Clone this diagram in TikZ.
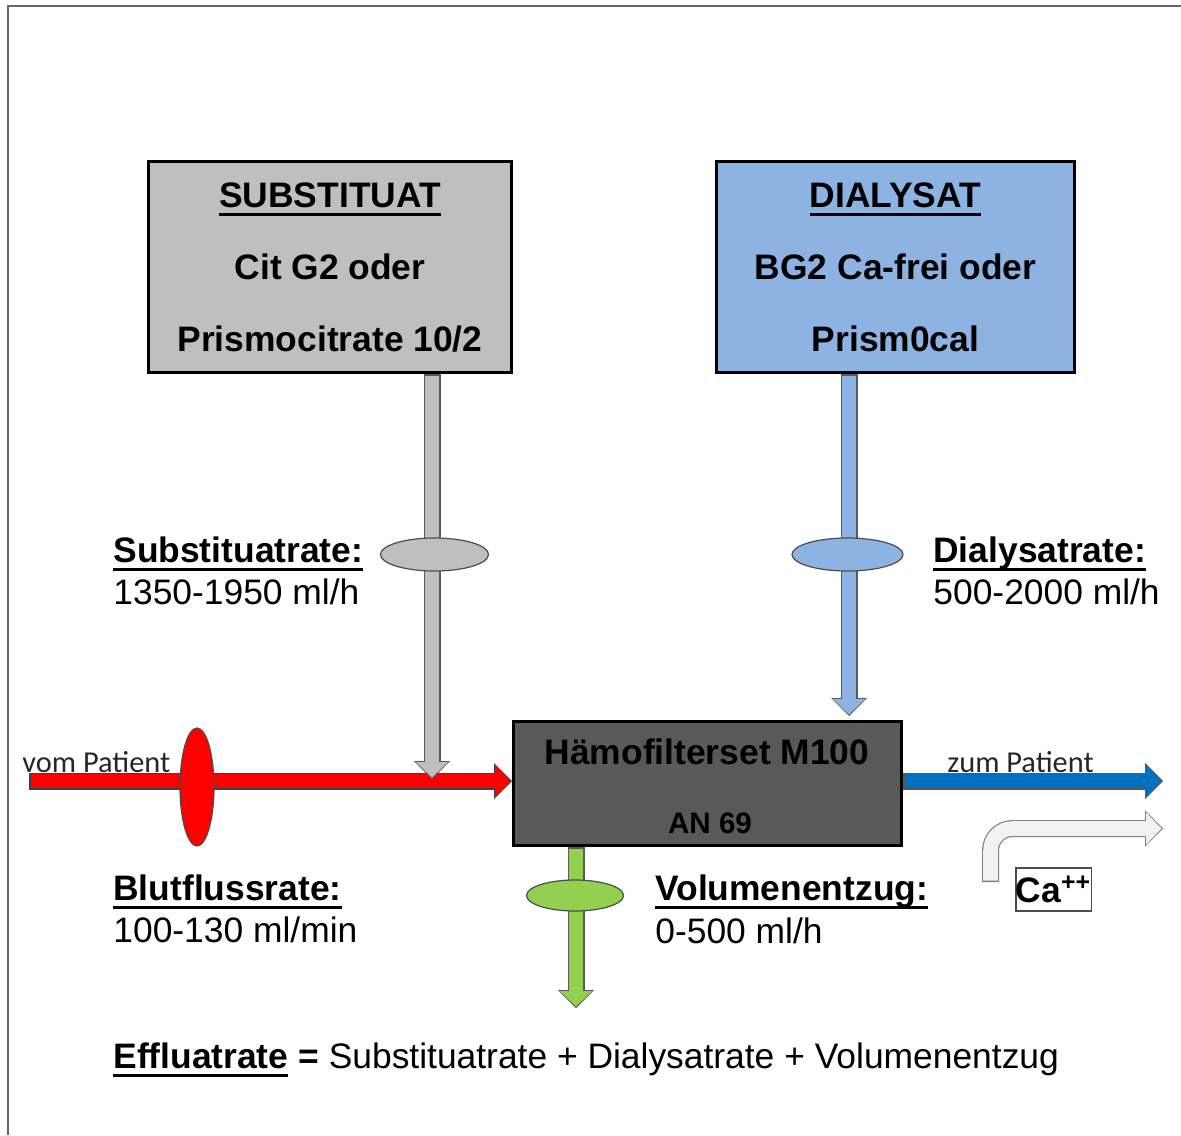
\documentclass[tikz,border=0pt]{standalone}
\usepackage{fontspec}
\setmainfont{Liberation Sans}
\newfontfamily\calibrifont{Carlito}
\usepackage{tikz}
\usetikzlibrary{arrows.meta,shapes.geometric}
\definecolor{substgray}{HTML}{BFBFBF}
\definecolor{dialblue}{HTML}{8DB3E2}
\definecolor{bloodred}{HTML}{FF0000}
\definecolor{returnblue}{HTML}{0070C0}
\definecolor{effluatgreen}{HTML}{92D050}
\definecolor{filtergray}{HTML}{595959}
\definecolor{calight}{HTML}{F2F2F2}
\newcommand{\ulin}[1]{\setbox0\hbox{#1}\rlap{\rule[-4.4pt]{\wd0}{1.4pt}}\box0\relax}
\newcommand{\flowline}[3][black!65]{\draw[flowout=#1] #3; \draw[flowin=#2] #3;}
\tikzset{
  srcbox/.style={draw, line width=1.5pt, inner sep=0pt, align=center, minimum height=105.5pt, font=\fontsize{17.7}{36}\selectfont\bfseries},
  pumpshape/.style={ellipse, draw=black!70, line width=0.6pt, inner sep=0pt},
  ratehead/.style={anchor=base west, inner sep=0pt, font=\fontsize{17.7}{20}\selectfont\bfseries},
  ratevalue/.style={anchor=base west, inner sep=0pt, font=\fontsize{17.7}{20}\selectfont},
  patientlabel/.style={anchor=base west, inner sep=0pt, text=black!85, font=\fontsize{15.2}{17}\calibrifont},
  flowout/.style={line width=8.5pt, draw=#1, -{Triangle[width=18pt,length=9pt,line width=0pt]}},
  flowin/.style={line width=7.3pt, draw=#1, shorten <=0.75pt, shorten >=0.75pt, -{Triangle[width=16pt,length=7.7pt,line width=0pt]}}
}
\begin{document}
\begin{tikzpicture}[x=0.5pt,y=-0.5pt]
\useasboundingbox (0,0) rectangle (1181,1135);
\draw[black!60, line width=1pt] (8,1135) -- (8,6) -- (1181,6);

\node[srcbox, fill=substgray, minimum width=181.5pt] (substituat) at (330,267) {\ulin{SUBSTITUAT}\\Cit G2 oder\\Prismocitrate 10/2};
\node[srcbox, fill=dialblue, minimum width=179pt] (dialysat) at (895.5,267) {\ulin{DIALYSAT}\\BG2 Ca-frei oder\\Prism0cal};
\node[draw, fill=filtergray, line width=1.5pt, minimum width=194pt, minimum height=62pt] (filter) at (707.5,783.5) {};
\node[font=\fontsize{17.7}{20}\selectfont\bfseries] (filtername) at (707,752) {Hämofilterset M100};
\node[font=\fontsize{14.8}{17}\selectfont\bfseries] (filtertype) at (710,823) {AN 69};

\coordinate (patin) at (29,781);
\coordinate (patout) at (1163,781);
\coordinate (mixpoint) at (432,779);
\coordinate (dialin) at (849,716);
\coordinate (effluat) at (576,1008);
\coordinate (castart) at (990.5,882);
\coordinate (caend) at (1163,828.5);

\node[patientlabel] (fromlabel) at (22,772.5) {vom Patient};
\node[patientlabel] (tolabel) at (947,772.5) {zum Patient};

\flowline[black!75]{bloodred}{(patin) -- (patin -| filter.west)}
\flowline{returnblue}{(filter.east |- patout) -- (patout)}
\flowline{substgray}{(substituat.south -| mixpoint) -- (mixpoint)}
\flowline{dialblue}{(dialysat.south -| dialin) -- (dialin)}
\flowline{effluatgreen}{(filter.south -| effluat) -- (effluat)}
\flowline[black!50]{calight}{[rounded corners=11pt] (castart) |- (caend)}

\node[pumpshape, fill=substgray, minimum width=54pt, minimum height=16.5pt] (substpump) at (434.5,554.5) {};
\node[pumpshape, fill=dialblue, minimum width=55.5pt, minimum height=16.5pt] (dialpump) at (847.5,554.5) {};
\node[pumpshape, fill=bloodred, minimum width=17pt, minimum height=59pt] (bloodpump) at (197,787) {};
\node[pumpshape, fill=effluatgreen, minimum width=48.5pt, minimum height=15.5pt] (ufpump) at (575,895.5) {};

\node[draw=black!70, line width=0.6pt, inner sep=0pt, minimum width=37.5pt, minimum height=21.5pt, font=\fontsize{17.7}{20}\selectfont\bfseries] (calcium) at (1053.5,889.5) {Ca\textsuperscript{++}};

\node[ratehead] (substhead) at (113,562) {\ulin{Substituatrate:}};
\node[ratevalue] (substvalue) at (113,604) {1350-1950 ml/h};
\node[ratehead] (dialhead) at (933,562) {\ulin{Dialysatrate:}};
\node[ratevalue] (dialvalue) at (933,604) {500-2000 ml/h};
\node[ratehead] (bloodhead) at (113,900) {\ulin{Blutflussrate:}};
\node[ratevalue] (bloodvalue) at (113,942) {100-130 ml/min};
\node[ratehead] (ufhead) at (655,900) {\ulin{Volumenentzug:}};
\node[ratevalue] (ufvalue) at (655,943) {0-500 ml/h};
\node[ratevalue] (effluatrate) at (113,1068) {\textbf{\ulin{Effluatrate} =} Substituatrate + Dialysatrate + Volumenentzug};
\end{tikzpicture}
\end{document}
